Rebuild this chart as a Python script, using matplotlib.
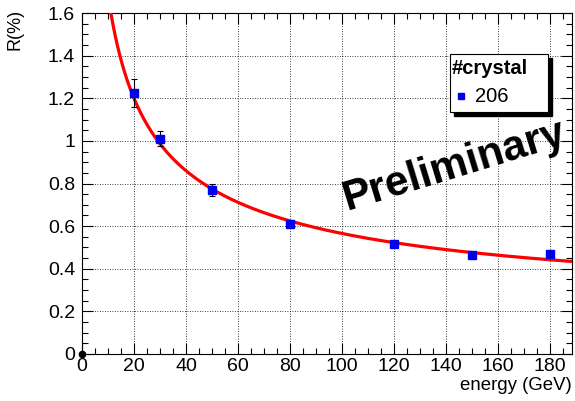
import numpy as np
import matplotlib.pyplot as plt
from matplotlib.patches import Rectangle
from matplotlib.ticker import MultipleLocator

plt.rcParams['font.family'] = ['Liberation Sans', 'DejaVu Sans']

# measured resolution for the 206 crystal
energy = [20, 30, 50, 80, 120, 150, 180]
resol = [1.223, 1.011, 0.768, 0.612, 0.515, 0.465, 0.470]
resol_err = [0.065, 0.035, 0.028, 0.012, 0.010, 0.010, 0.012]

# fit R = a/sqrt(E) (+) b
fit_a = 5.29
fit_b = 0.20

W, H = 575, 401
fig = plt.figure(figsize=(W / 100, H / 100), dpi=100)
ax = fig.add_axes([82 / W, 1 - 354 / H, 490 / W, 341 / H])

e = np.linspace(1, 188.5, 400)
ax.plot(e, np.sqrt(fit_a**2 / e + fit_b**2), color='#ff0000', lw=2.3, zorder=3)

ax.errorbar(energy, resol, yerr=resol_err, fmt='s', color='#0000ee', ms=6,
            ecolor='black', elinewidth=0.8, capsize=2, capthick=0.8, zorder=4)
ax.plot([0], [0], 'o', color='black', ms=4.5, clip_on=False, zorder=5)

ax.set_xlim(0, 188.5)
ax.set_ylim(0, 1.6)
ax.xaxis.set_major_locator(MultipleLocator(20))
ax.xaxis.set_minor_locator(MultipleLocator(5))
ax.yaxis.set_minor_locator(MultipleLocator(0.05))
ax.set_yticks(np.arange(0, 1.61, 0.2))
ax.set_yticklabels(['0', '0.2', '0.4', '0.6', '0.8', '1', '1.2', '1.4', '1.6'])
ax.tick_params(which='both', direction='in', top=True, right=True,
               labelsize=14, width=0.8)
ax.tick_params(which='major', length=8)
ax.tick_params(axis='x', which='major', pad=3)
ax.tick_params(axis='y', which='major', pad=5)
ax.tick_params(which='minor', length=4.5)
ax.grid(True, which='major', color='black', lw=0.6, ls=(0, (1, 2)))
for s in ax.spines.values():
    s.set_linewidth(0.8)

fig.text(15 / W, 1 - 9 / H, 'R(%)', rotation=90, ha='center', va='top', fontsize=13)
fig.text(572 / W, 1 - 386 / H, 'energy (GeV)', ha='right', va='center', fontsize=13.4)

# legend box drawn ROOT style with a solid shadow
lx0, ly0, lx1, ly1 = 450, 54, 548, 112
fig.patches.append(Rectangle(((lx0 + 4) / W, 1 - (ly1 + 4) / H),
                             (lx1 - lx0) / W, (ly1 - ly0) / H, transform=fig.transFigure,
                             facecolor='black', edgecolor='black', zorder=10))
fig.patches.append(Rectangle((lx0 / W, 1 - ly1 / H), (lx1 - lx0) / W, (ly1 - ly0) / H,
                             transform=fig.transFigure, facecolor='white',
                             edgecolor='black', lw=0.8, zorder=11))
fig.text(452 / W, 1 - 68 / H, '#crystal', ha='left', va='center', fontsize=14.5,
         fontweight='bold', zorder=12)
fig.text(475 / W, 1 - 97 / H, '206', ha='left', va='center', fontsize=14.5, zorder=12)
fig.lines.append(plt.Line2D([461 / W], [1 - 96 / H], marker='s', color='#0000ee', ms=5,
                            transform=fig.transFigure, zorder=12))

fig.text(346 / W, 1 - 210 / H, 'Preliminary', rotation=17, ha='left', va='baseline',
         fontsize=30.5, fontweight='bold', rotation_mode='anchor')

fig.savefig('out.png', dpi=100)
